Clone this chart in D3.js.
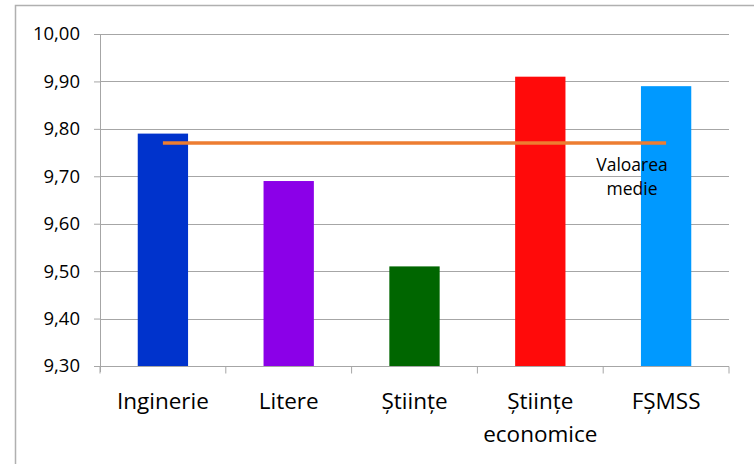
<!DOCTYPE html>
<html>
<head>
<meta charset="UTF-8">
<title>Valoarea medie pe facultăți</title>
<script src="https://cdn.jsdelivr.net/npm/d3@7"></script>
<style>
  body { margin: 0; background: #fff; }
  svg { display: block; font-family: "Open Sans", sans-serif; font-variant-ligatures: none; }
</style>
</head>
<body>
<script>
// date
var categories = ["Inginerie", "Litere", "Științe", "Științe economice", "FȘMSS"];
var values = [9.79, 9.69, 9.51, 9.91, 9.89];
var barColors = ["#0033cc", "#8b00e8", "#006600", "#ff0a0a", "#0099ff"];
var mean = 9.77;
var meanLabel = ["Valoarea", "medie"];
var yTicks = [9.30, 9.40, 9.50, 9.60, 9.70, 9.80, 9.90, 10.00];

var w = 754, h = 464;
var mLeft = 100, mRight = 729, mTop = 34, mBottom = 366;

var svg = d3.select("body").append("svg")
  .attr("width", w)
  .attr("height", h);

// chenarul exterior (doar stanga si sus se vad)
svg.append("path")
  .attr("d", "M15.5," + h + "V5.5H" + w)
  .attr("fill", "none")
  .attr("stroke", "#b0b0b0")
  .attr("stroke-width", 1.5);

var x = d3.scaleBand()
  .domain(categories)
  .range([mLeft, mRight])
  .paddingInner(0.6)
  .paddingOuter(0.3);

// banda completa pentru tick-uri
var xFull = d3.scaleBand()
  .domain(categories)
  .range([mLeft, mRight]);

var y = d3.scaleLinear()
  .domain([9.3, 10.0])
  .range([mBottom, mTop]);

var fmt = function (d) { return d3.format(".2f")(d).replace(".", ","); };

// grila
svg.append("g")
  .selectAll("line")
  .data(yTicks.slice(1))
  .enter()
  .append("line")
  .attr("x1", mLeft)
  .attr("x2", mRight)
  .attr("y1", function (d) { return Math.round(y(d)) + 0.5; })
  .attr("y2", function (d) { return Math.round(y(d)) + 0.5; })
  .attr("stroke", "#a6a6a6")
  .attr("stroke-width", 1.2);

// axa Y
var yAxis = d3.axisLeft(y)
  .tickValues(yTicks)
  .tickSize(6)
  .tickSizeOuter(0)
  .tickPadding(14)
  .tickFormat(fmt);

var gy = svg.append("g")
  .attr("transform", "translate(" + mLeft + ",0)")
  .call(yAxis);
gy.attr("font-family", null).attr("font-size", null);
gy.select(".domain").attr("stroke", "#a6a6a6").attr("d", "M0.5," + mTop + "V" + (mBottom + 6));
gy.selectAll(".tick line").attr("stroke", "#a6a6a6");
gy.selectAll(".tick text")
  .attr("font-size", "18.5px")
  .attr("fill", "#000");

// bare
svg.append("g")
  .selectAll("rect")
  .data(values)
  .enter()
  .append("rect")
  .attr("x", function (d, i) { return x(categories[i]); })
  .attr("width", x.bandwidth())
  .attr("y", function (d) { return y(d); })
  .attr("height", function (d) { return y(9.3) - y(d); })
  .attr("fill", function (d, i) { return barColors[i]; });

// axa X
var gx = svg.append("g")
  .attr("transform", "translate(0," + (Math.round(mBottom) + 0.5) + ")");
gx.append("line")
  .attr("x1", mLeft).attr("x2", mRight)
  .attr("stroke", "#a6a6a6").attr("stroke-width", 1.2);
gx.selectAll(".tk")
  .data(categories.concat(["__end"]))
  .enter()
  .append("line")
  .attr("x1", function (d, i) { return mLeft + i * xFull.bandwidth(); })
  .attr("x2", function (d, i) { return mLeft + i * xFull.bandwidth(); })
  .attr("y1", 0).attr("y2", 7)
  .attr("stroke", "#a6a6a6");

var lbl = gx.selectAll(".lbl")
  .data(categories)
  .enter()
  .append("text")
  .attr("text-anchor", "middle")
  .attr("font-size", "22.5px")
  .attr("fill", "#000")
  .attr("transform", function (d) { return "translate(" + (xFull(d) + xFull.bandwidth() / 2) + ",42)"; });
lbl.each(function (d) {
  var parts = d === "Științe economice" ? ["Științe", "economice"] : [d];
  d3.select(this).selectAll("tspan")
    .data(parts)
    .enter()
    .append("tspan")
    .attr("x", 0)
    .attr("dy", function (p, i) { return i === 0 ? 0 : 33; })
    .text(function (p) { return p; });
});

// linia valorii medii
var x0 = xFull(categories[0]) + xFull.bandwidth() / 2;
var x1 = xFull(categories[categories.length - 1]) + xFull.bandwidth() / 2;
svg.append("line")
  .attr("x1", x0)
  .attr("x2", x1)
  .attr("y1", y(mean))
  .attr("y2", y(mean))
  .attr("stroke", "#ed7d31")
  .attr("stroke-width", 3.5);

svg.append("text")
  .attr("text-anchor", "middle")
  .attr("font-size", "17.5px")
  .attr("fill", "#000")
  .attr("transform", "translate(632," + (y(mean) + 28) + ")")
  .selectAll("tspan")
  .data(meanLabel)
  .enter()
  .append("tspan")
  .attr("x", 0)
  .attr("dy", function (d, i) { return i === 0 ? 0 : 24; })
  .text(function (d) { return d; });
</script>
</body>
</html>
